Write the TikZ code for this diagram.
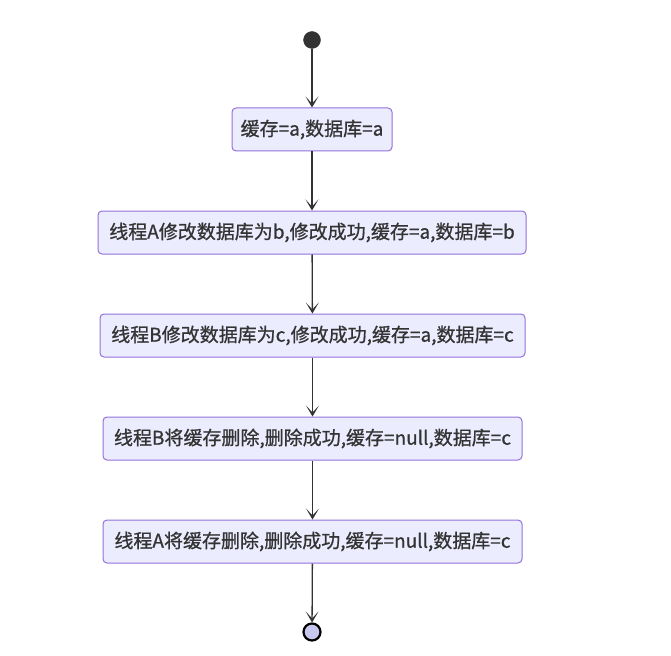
\documentclass[tikz,border=0pt]{standalone}
\usepackage{fontspec}
\setmainfont{Noto Sans CJK SC}[FakeBold=0.8]
\usetikzlibrary{arrows.meta}
\definecolor{boxfill}{HTML}{ECECFF}
\definecolor{boxline}{HTML}{9370DB}
\definecolor{ink}{HTML}{333333}
\definecolor{endfill}{HTML}{C8C8EE}
\begin{document}
\begin{tikzpicture}[x=1pt,y=-1pt,
  state/.style={draw=boxline,fill=boxfill,rounded corners=4pt,line width=1pt,
    minimum height=43pt,inner sep=0pt,font=\fontsize{19}{22}\selectfont,text=ink},
  flow/.style={draw=ink,line width=1.3pt,-{Stealth[length=11pt,width=13pt,inset=7pt]}}]
\useasboundingbox (0,0) rectangle (671,655);
\node[circle,fill=ink,draw=ink,minimum size=17pt,inner sep=0pt] (s) at (312,40) {};
\node[state,minimum width=160pt] (b1) at (312,129.5) {缓存=a,数据库=a};
\node[state,minimum width=428pt] (b2) at (312,232.5) {线程A修改数据库为b,修改成功,缓存=a,数据库=b};
\node[state,minimum width=425pt] (b3) at (312.5,335.5) {线程B修改数据库为c,修改成功,缓存=a,数据库=c};
\node[state,minimum width=419pt] (b4) at (312.5,438.5) {线程B将缓存删除,删除成功,缓存=null,数据库=c};
\node[state,minimum width=419pt] (b5) at (312.5,541.5) {线程A将缓存删除,删除成功,缓存=null,数据库=c};
\node[circle,fill=endfill,draw=black,line width=2.2pt,minimum size=17pt,inner sep=0pt] (e) at (312,632) {};
\draw[flow] (s) -- (b1);
\draw[flow] (b1) -- (b2);
\draw[flow] (b2) -- (b3);
\draw[flow] (b3) -- (b4);
\draw[flow] (b4) -- (b5);
\draw[flow] (b5) -- (e);
\end{tikzpicture}
\end{document}
